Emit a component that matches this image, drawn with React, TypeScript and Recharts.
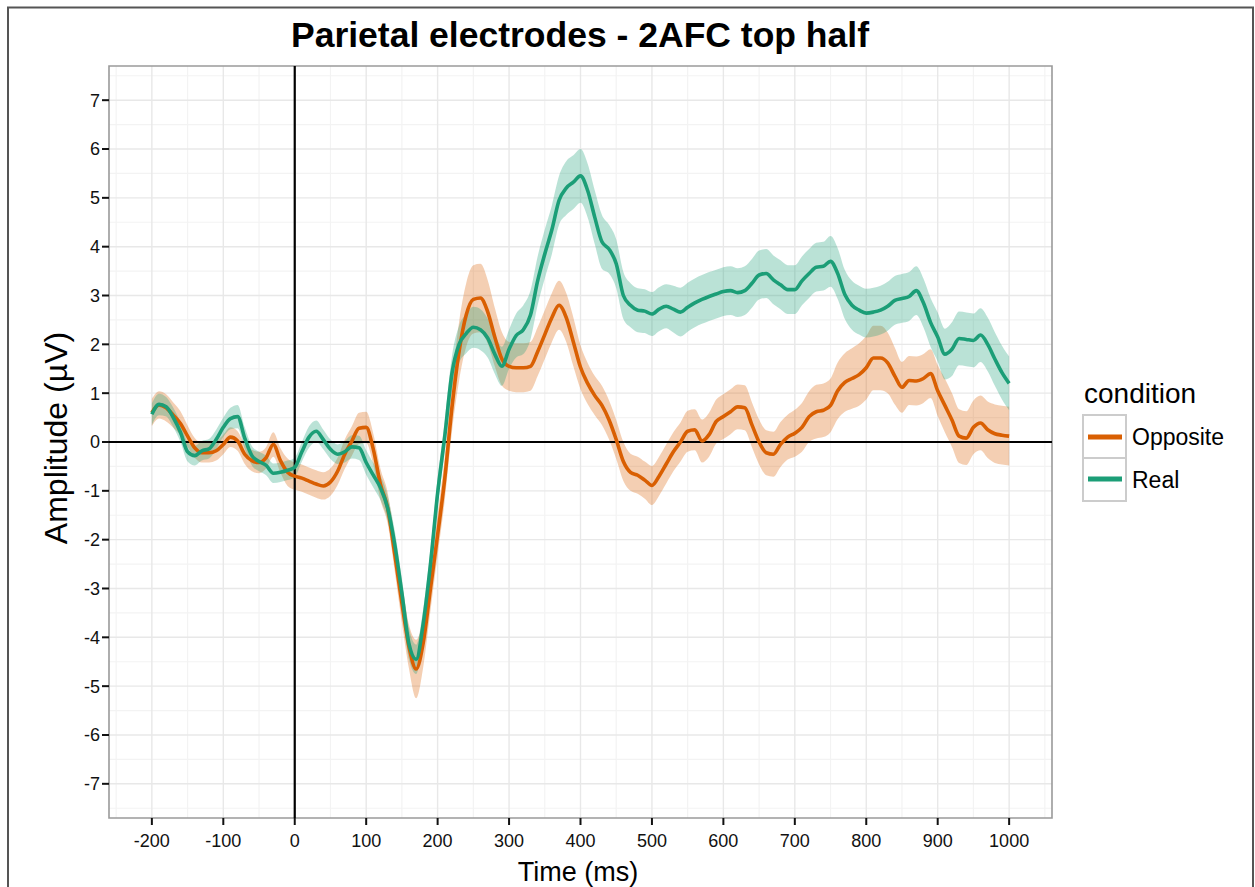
import React from 'react';
import {
  ComposedChart,
  Line,
  Area,
  XAxis,
  YAxis,
  CartesianGrid,
  ReferenceLine,
  ReferenceArea,
} from 'recharts';

const FONT = '"Liberation Sans", Arial, Helvetica, sans-serif';

const times = [
  -200, -190, -180, -170, -160, -150, -140, -130, -120, -110,
  -100, -90, -80, -70, -60, -50, -40, -30, -20, -10,
  0, 10, 20, 30, 40, 50, 60, 70, 80, 90,
  100, 110, 120, 130, 140, 150, 160, 170, 180, 190,
  200, 210, 220, 230, 240, 250, 260, 270, 280, 290,
  300, 310, 320, 330, 340, 350, 360, 370, 380, 390,
  400, 410, 420, 430, 440, 450, 460, 470, 480, 490,
  500, 510, 520, 530, 540, 550, 560, 570, 580, 590,
  600, 610, 620, 630, 640, 650, 660, 670, 680, 690,
  700, 710, 720, 730, 740, 750, 760, 770, 780, 790,
  800, 810, 820, 830, 840, 850, 860, 870, 880, 890,
  900, 910, 920, 930, 940, 950, 960, 970, 980, 990,
  1000,
];

const oppositeMean = [
  0.60, 0.76, 0.70, 0.55, 0.38, 0.12, -0.12, -0.22, -0.22, -0.18,
  -0.05, 0.10, 0.02, -0.25, -0.38, -0.42, -0.32, -0.05, -0.38, -0.62,
  -0.70, -0.74, -0.80, -0.86, -0.90, -0.82, -0.60, -0.25, 0.02, 0.28,
  0.30, -0.15, -0.87, -1.35, -2.30, -3.30, -4.20, -4.65, -4.10, -3.00,
  -1.90, -0.75, 0.70, 1.85, 2.60, 2.92, 2.95, 2.67, 2.15, 1.70,
  1.55, 1.52, 1.52, 1.55, 1.85, 2.20, 2.55, 2.80, 2.55, 2.05,
  1.53, 1.20, 0.95, 0.75, 0.45, 0.05, -0.40, -0.62, -0.68, -0.78,
  -0.89, -0.70, -0.45, -0.20, 0.00, 0.22, 0.25, 0.02, 0.15, 0.42,
  0.52, 0.62, 0.72, 0.70, 0.35, 0.00, -0.22, -0.25, -0.05, 0.10,
  0.18, 0.30, 0.52, 0.62, 0.65, 0.75, 1.05, 1.22, 1.30, 1.38,
  1.52, 1.72, 1.72, 1.62, 1.35, 1.12, 1.26, 1.25, 1.30, 1.40,
  1.05, 0.75, 0.45, 0.12, 0.08, 0.30, 0.39, 0.25, 0.17, 0.14,
  0.12,
];

const oppositeSe = [
  0.28, 0.28, 0.28, 0.26, 0.25, 0.22, 0.20, 0.20, 0.20, 0.20,
  0.20, 0.20, 0.20, 0.20, 0.22, 0.22, 0.22, 0.25, 0.25, 0.28,
  0.28, 0.28, 0.28, 0.28, 0.28, 0.28, 0.28, 0.30, 0.30, 0.32,
  0.32, 0.32, 0.32, 0.32, 0.35, 0.40, 0.45, 0.60, 0.50, 0.45,
  0.42, 0.45, 0.50, 0.60, 0.65, 0.70, 0.70, 0.65, 0.60, 0.55,
  0.50, 0.50, 0.50, 0.50, 0.50, 0.50, 0.50, 0.50, 0.50, 0.50,
  0.45, 0.42, 0.40, 0.40, 0.40, 0.40, 0.40, 0.38, 0.38, 0.38,
  0.40, 0.40, 0.40, 0.40, 0.40, 0.42, 0.42, 0.44, 0.45, 0.45,
  0.46, 0.46, 0.46, 0.46, 0.46, 0.46, 0.46, 0.46, 0.46, 0.46,
  0.48, 0.50, 0.52, 0.55, 0.55, 0.55, 0.58, 0.60, 0.62, 0.64,
  0.65, 0.66, 0.66, 0.62, 0.58, 0.52, 0.50, 0.50, 0.50, 0.50,
  0.52, 0.55, 0.55, 0.55, 0.55, 0.55, 0.56, 0.58, 0.60, 0.60,
  0.60,
];

const realMean = [
  0.57, 0.77, 0.72, 0.50, 0.20, -0.20, -0.28, -0.18, -0.14, 0.05,
  0.30, 0.48, 0.52, 0.08, -0.28, -0.40, -0.48, -0.64, -0.62, -0.58,
  -0.52, -0.20, 0.10, 0.22, 0.05, -0.15, -0.25, -0.20, -0.10, -0.12,
  -0.42, -0.68, -0.94, -1.35, -2.10, -3.10, -4.14, -4.45, -3.70, -2.50,
  -1.05, 0.12, 1.40, 2.00, 2.22, 2.35, 2.30, 2.13, 1.80, 1.55,
  1.90, 2.18, 2.30, 2.60, 3.30, 3.85, 4.35, 4.95, 5.20, 5.32,
  5.45, 5.15, 4.60, 4.10, 3.95, 3.65, 3.00, 2.80, 2.70, 2.68,
  2.62, 2.72, 2.78, 2.72, 2.66, 2.76, 2.85, 2.92, 2.98, 3.03,
  3.08, 3.10, 3.06, 3.10, 3.25, 3.42, 3.45, 3.32, 3.22, 3.12,
  3.12, 3.30, 3.45, 3.58, 3.60, 3.70, 3.45, 3.02, 2.80, 2.70,
  2.64, 2.66, 2.70, 2.78, 2.90, 2.94, 2.98, 3.10, 2.85, 2.45,
  2.15, 1.80, 1.90, 2.12, 2.10, 2.08, 2.19, 2.00, 1.70, 1.42,
  1.20,
];

const realSe = [
  0.22, 0.22, 0.20, 0.20, 0.20, 0.20, 0.20, 0.20, 0.20, 0.20,
  0.20, 0.22, 0.24, 0.22, 0.20, 0.20, 0.20, 0.20, 0.20, 0.20,
  0.20, 0.20, 0.22, 0.22, 0.20, 0.20, 0.20, 0.22, 0.24, 0.25,
  0.25, 0.25, 0.25, 0.25, 0.28, 0.30, 0.32, 0.30, 0.30, 0.30,
  0.30, 0.32, 0.35, 0.38, 0.40, 0.42, 0.42, 0.40, 0.40, 0.40,
  0.40, 0.45, 0.50, 0.50, 0.50, 0.50, 0.50, 0.50, 0.55, 0.55,
  0.55, 0.55, 0.55, 0.55, 0.50, 0.50, 0.48, 0.45, 0.45, 0.45,
  0.45, 0.45, 0.45, 0.48, 0.50, 0.50, 0.50, 0.50, 0.50, 0.50,
  0.50, 0.50, 0.50, 0.50, 0.50, 0.50, 0.50, 0.50, 0.50, 0.50,
  0.50, 0.50, 0.50, 0.50, 0.50, 0.52, 0.52, 0.50, 0.50, 0.50,
  0.50, 0.50, 0.50, 0.50, 0.50, 0.50, 0.50, 0.50, 0.50, 0.50,
  0.50, 0.52, 0.55, 0.55, 0.55, 0.55, 0.55, 0.55, 0.55, 0.55,
  0.55,
];

const xTicks = [-200, -100, 0, 100, 200, 300, 400, 500, 600, 700, 800, 900, 1000];
const xMinor = [-250, -150, -50, 50, 150, 250, 350, 450, 550, 650, 750, 850, 950, 1050];
const yTicks = [-7, -6, -5, -4, -3, -2, -1, 0, 1, 2, 3, 4, 5, 6, 7];
const yMinor = [-7.5, -6.5, -5.5, -4.5, -3.5, -2.5, -1.5, -0.5, 0.5, 1.5, 2.5, 3.5, 4.5, 5.5, 6.5, 7.5];
const xDomain = [-260, 1060];
const yDomain = [-7.7, 7.7];

const conditions = [
  { key: 'opp', label: 'Opposite', color: '#d95f02' },
  { key: 'real', label: 'Real', color: '#1b9e77' },
];

const data = times.map((t, i) => ({
  t,
  opp: oppositeMean[i],
  real: realMean[i],
  oppBand: [oppositeMean[i] - oppositeSe[i], oppositeMean[i] + oppositeSe[i]],
  realBand: [realMean[i] - realSe[i], realMean[i] + realSe[i]],
}));

const tickStyle = { fontSize: 18, fill: '#111', fontFamily: FONT };

export default function App() {
  return (
    <div
      style={{
        position: 'absolute',
        left: 0,
        top: 0,
        width: 1255,
        height: 887,
        background: '#fff',
        overflow: 'hidden',
      }}
    >
      <ComposedChart width={1255} height={887} data={data} margin={{ top: 66, right: 203, bottom: 0, left: 0 }}>
        <CartesianGrid verticalValues={xMinor} horizontalValues={yMinor} stroke="#f3f3f3" strokeWidth={1.2} />
        <CartesianGrid verticalValues={xTicks} horizontalValues={yTicks} stroke="#e8e8e8" strokeWidth={1.4} />
        <XAxis
          dataKey="t"
          type="number"
          domain={xDomain}
          ticks={xTicks}
          interval={0}
          allowDataOverflow
          axisLine={false}
          tickLine={{ stroke: '#111', strokeWidth: 2 }}
          tickSize={7}
          tickMargin={9}
          fontSize={18}
          fontFamily={FONT}
          tick={tickStyle}
          height={69}
        />
        <YAxis
          type="number"
          domain={yDomain}
          ticks={yTicks}
          interval={0}
          allowDataOverflow
          axisLine={false}
          tickLine={{ stroke: '#111', strokeWidth: 2 }}
          tickSize={7}
          tickMargin={2}
          fontSize={18}
          fontFamily={FONT}
          tick={tickStyle}
          width={109}
        />
        <ReferenceArea
          x1={xDomain[0]}
          x2={xDomain[1]}
          y1={yDomain[0]}
          y2={yDomain[1]}
          fill="none"
          fillOpacity={0}
          stroke="#9a9a9a"
          strokeWidth={1.6}
          ifOverflow="visible"
        />
        <ReferenceLine y={0} stroke="#000" strokeWidth={2.2} />
        <ReferenceLine x={0} stroke="#000" strokeWidth={2.2} />
        <Area
          type="monotone"
          dataKey="oppBand"
          stroke="none"
          fill="#d95f02"
          fillOpacity={0.3}
          isAnimationActive={false}
          dot={false}
          activeDot={false}
        />
        <Line
          type="monotone"
          dataKey="opp"
          stroke="#d95f02"
          strokeWidth={3.6}
          dot={false}
          activeDot={false}
          isAnimationActive={false}
        />
        <Area
          type="monotone"
          dataKey="realBand"
          stroke="none"
          fill="#1b9e77"
          fillOpacity={0.3}
          isAnimationActive={false}
          dot={false}
          activeDot={false}
        />
        <Line
          type="monotone"
          dataKey="real"
          stroke="#1b9e77"
          strokeWidth={3.6}
          dot={false}
          activeDot={false}
          isAnimationActive={false}
        />
      </ComposedChart>
      <svg
        width={1255}
        height={887}
        style={{ position: 'absolute', left: 0, top: 0, pointerEvents: 'none' }}
      >
        <rect x={8} y={7.5} width={1245} height={900} fill="none" stroke="#555" strokeWidth={2} />
        <text x={580} y={47} textAnchor="middle" fontSize={35.5} fontWeight="bold" fontFamily={FONT} fill="#000">
          Parietal electrodes - 2AFC top half
        </text>
        <text
          transform="translate(67,438) rotate(-90)"
          textAnchor="middle"
          fontSize={32}
          fontFamily={FONT}
          fill="#000"
        >
          Amplitude (µV)
        </text>
        <text x={578} y={881} textAnchor="middle" fontSize={27} fontFamily={FONT} fill="#000">
          Time (ms)
        </text>
        <g>
          <text x={1084} y={403} fontSize={28} fontFamily={FONT} fill="#000">
            condition
          </text>
          {conditions.map((c, i) => (
            <g key={c.key}>
              <rect x={1083} y={415 + i * 43} width={43} height={43} fill="#fff" stroke="#cccccc" strokeWidth={2} />
              <line x1={1088} x2={1122} y1={437 + i * 42} y2={437 + i * 42} stroke={c.color} strokeWidth={5} />
              <text x={1132} y={445 + i * 43} fontSize={23} fontFamily={FONT} fill="#000">
                {c.label}
              </text>
            </g>
          ))}
        </g>
      </svg>
    </div>
  );
}
